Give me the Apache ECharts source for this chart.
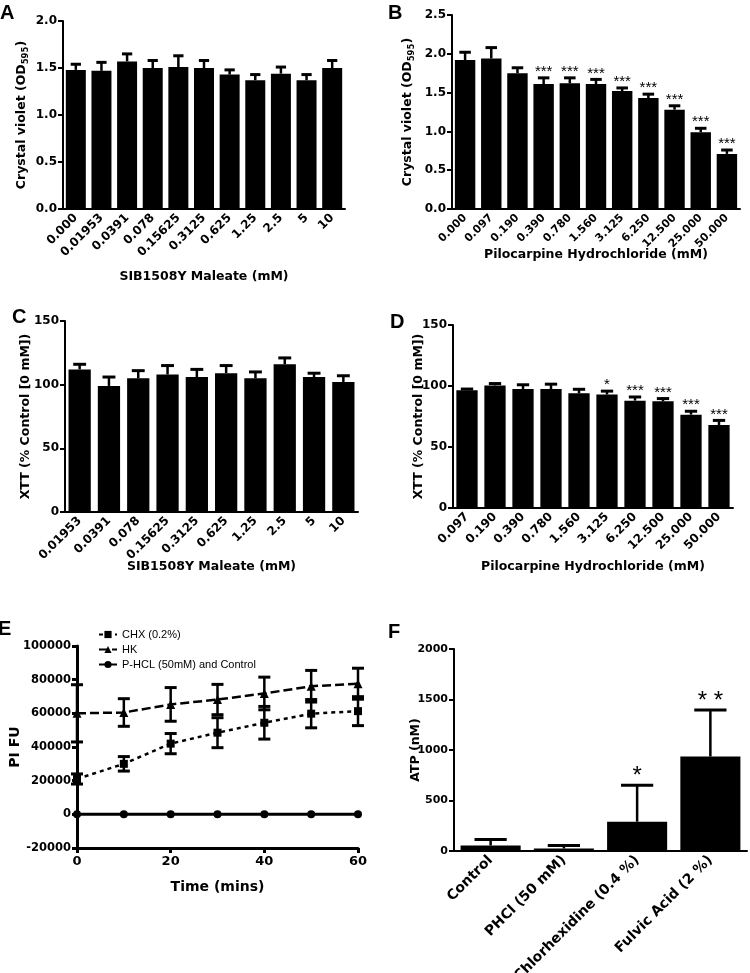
<!DOCTYPE html>
<html><head><meta charset="utf-8">
<script src="https://cdn.jsdelivr.net/npm/echarts@6/dist/echarts.min.js"></script>
<style>html,body{margin:0;padding:0;background:#fff}#c{width:750px;height:973px}</style>
</head><body><div id="c"></div>
<script>
// ---- Panel A ----
const aCats = ['0.000','0.01953','0.0391','0.078','0.15625','0.3125','0.625','1.25','2.5','5','10'];
const aMeans = [1.48,1.47,1.57,1.50,1.51,1.50,1.43,1.37,1.44,1.37,1.50];
const aErrs  = [0.06,0.09,0.08,0.08,0.12,0.08,0.05,0.06,0.07,0.06,0.08];
// ---- Panel B ----
const bCats = ['0.000','0.097','0.190','0.390','0.780','1.560','3.125','6.250','12.500','25.000','50.000'];
const bMeans = [1.92,1.94,1.75,1.61,1.62,1.61,1.52,1.43,1.28,0.99,0.71];
const bErrs  = [0.10,0.14,0.07,0.08,0.07,0.06,0.04,0.05,0.05,0.05,0.05];
const bStars = ['','','','***','***','***','***','***','***','***','***'];
// ---- Panel C ----
const cCats = ['0.01953','0.0391','0.078','0.15625','0.3125','0.625','1.25','2.5','5','10'];
const cMeans = [112,99,105,108,106,109,105,116,106,102];
const cErrs  = [4,7,6,7,6,6,5,5,3,5];
// ---- Panel D ----
const dCats = ['0.097','0.190','0.390','0.780','1.560','3.125','6.250','12.500','25.000','50.000'];
const dMeans = [96.5,100.5,97.5,97.5,94,93,88,87.5,76.5,68];
const dErrs  = [1,1.5,3.5,4,3.3,2.8,3,2.2,2.8,3.8];
const dStars = ['','','','','','*','***','***','***','***'];
// ---- Panel E ----
const eTimes = [0,10,20,30,40,50,60];
const eChx = [21000,30000,42000,48500,54400,59800,61300];
const eChxErr = [3000,4300,6000,8900,9700,8400,8600];
const eHk = [60000,60500,65300,68200,71800,76100,77600];
const eHkErr = [17000,8200,10000,9000,9700,9400,9200];
const ePhcl = [0,0,0,0,0,0,0];
const eNames = ['CHX (0.2%)','HK','P-HCL (50mM) and Control'];
// ---- Panel F ----
const fCats = ['Control','PHCl (50 mM)','Chlorhexidine (0.4 %)','Fulvic Acid (2 %)'];
const fMeans = [55,25,290,935];
const fErrs  = [60,30,360,460];
const fStars = ['','','*','* *'];

const FF = '"DejaVu Sans", "Liberation Sans", Arial, sans-serif';
const AF = '"Liberation Sans", Arial, sans-serif';
const tickFont = {fontFamily: FF, fontWeight: 'bold', fontSize: 12, color: '#000'};
const titleFont = {fontFamily: FF, fontWeight: 'bold', fontSize: 12.5, color: '#000'};

const chart = echarts.init(document.getElementById('c'), null, {renderer: 'canvas'});

const gridBoxes = [
  {left: 63, top: 21, width: 282, height: 188},
  {left: 452, top: 15, width: 288, height: 194},
  {left: 65, top: 321, width: 293, height: 191},
  {left: 453, top: 325, width: 280, height: 183},
  {left: 77, top: 646, width: 281, height: 202},
  {left: 454, top: 649, width: 293, height: 202}
];
const grids = gridBoxes.map(g => Object.assign({containLabel: false, outerBoundsMode: 'none'}, g));

const plain = v => String(v);

function catAxis(gi, cats, name, gap, rot) {
  return {
    type: 'category', gridIndex: gi, data: cats,
    axisLine: {lineStyle: {color: '#000', width: 2}},
    axisTick: {alignWithLabel: true, length: 5, lineStyle: {width: 2, color: '#000'}},
    axisLabel: Object.assign({rotate: rot, margin: 7, interval: 0}, tickFont),
    name: name, nameLocation: 'middle', nameGap: gap, nameMoveOverlap: false, nameTextStyle: titleFont
  };
}
function valAxis(gi, min, max, interval, fmt, name, gap, rich) {
  const ax = {
    type: 'value', gridIndex: gi, min: min, max: max, interval: interval,
    axisLine: {show: true, lineStyle: {color: '#000', width: 2}},
    axisTick: {show: true, length: 5, lineStyle: {width: 2, color: '#000'}},
    axisLabel: Object.assign({margin: 6, formatter: fmt}, tickFont),
    splitLine: {show: false},
    name: name, nameLocation: 'middle', nameGap: gap, nameRotate: 90, nameMoveOverlap: false,
    nameTextStyle: Object.assign({}, titleFont)
  };
  if (rich) ax.nameTextStyle.rich = rich;
  return ax;
}
const odRich = {
  t: {fontFamily: FF, fontWeight: 'bold', fontSize: 12.5, color: '#000', lineHeight: 16},
  s: {fontFamily: FF, fontWeight: 'bold', fontSize: 8.5, color: '#000', verticalAlign: 'bottom', lineHeight: 16, padding: [6, 0, 0, 0]}
};
const odName = '{t|Crystal violet (OD}{s|595}{t|)}';

function errBar(capFrac, lw, stars, starSize, starOff) {
  return function (params, api) {
    const x = api.value(0), m = api.value(1), e = api.value(2);
    const mid = api.coord([x, m]);
    const top = api.coord([x, m + e]);
    const bw = api.size([1, 0])[0];
    const hw = bw * capFrac;
    const ch = [
      {type: 'line', shape: {x1: top[0], y1: mid[1], x2: top[0], y2: top[1]}, style: {stroke: '#000', lineWidth: lw}},
      {type: 'line', shape: {x1: top[0] - hw, y1: top[1], x2: top[0] + hw, y2: top[1]}, style: {stroke: '#000', lineWidth: lw + 0.5}}
    ];
    const s = stars ? stars[params.dataIndex] : '';
    if (s) ch.push({type: 'text', style: {text: s, x: top[0], y: top[1] - starOff, align: 'center', verticalAlign: 'middle',
      fontSize: starSize, fontFamily: AF, fill: '#000'}});
    return {type: 'group', children: ch};
  };
}
function errBothE(params, api) {
  const x = api.value(0), m = api.value(1), e = api.value(2);
  const lo = api.coord([x, m - e]);
  const hi = api.coord([x, m + e]);
  const hw = 6;
  return {type: 'group', children: [
    {type: 'line', shape: {x1: hi[0], y1: lo[1], x2: hi[0], y2: hi[1]}, style: {stroke: '#000', lineWidth: 2.5}},
    {type: 'line', shape: {x1: hi[0] - hw, y1: hi[1], x2: hi[0] + hw, y2: hi[1]}, style: {stroke: '#000', lineWidth: 3}},
    {type: 'line', shape: {x1: lo[0] - hw, y1: lo[1], x2: lo[0] + hw, y2: lo[1]}, style: {stroke: '#000', lineWidth: 3}}
  ]};
}
function barSeries(gi, means, w) {
  return {type: 'bar', xAxisIndex: gi, yAxisIndex: gi, data: means, barWidth: w,
    itemStyle: {color: '#000'}, silent: true, z: 2};
}
function errSeries(gi, means, errs, cap, lw, stars, ss, so) {
  return {type: 'custom', xAxisIndex: gi, yAxisIndex: gi, z: 3, silent: true,
    data: means.map((m, i) => [i, m, errs[i]]),
    encode: {x: 0, y: 1},
    renderItem: errBar(cap, lw, stars, ss, so)};
}

const fAxis = catAxis(5, fCats, '', 0, 45);
fAxis.axisLabel.fontSize = 14;
const bAxis = catAxis(1, bCats, 'Pilocarpine Hydrochloride (mM)', 39, 45);
bAxis.axisLabel.fontSize = 11;

const xAxes = [
  catAxis(0, aCats, 'SIB1508Y Maleate (mM)', 61, 45),
  bAxis,
  catAxis(2, cCats, 'SIB1508Y Maleate (mM)', 48, 45),
  catAxis(3, dCats, 'Pilocarpine Hydrochloride (mM)', 52, 45),
  {type: 'value', gridIndex: 4, min: 0, max: 60, interval: 20,
   axisLine: {onZero: false, lineStyle: {color: '#000', width: 3}},
   axisTick: {length: 5, lineStyle: {width: 3, color: '#000'}},
   axisLabel: Object.assign({margin: 7, formatter: plain}, tickFont, {fontSize: 13}),
   splitLine: {show: false},
   name: 'Time (mins)', nameLocation: 'middle', nameGap: 32, nameMoveOverlap: false,
   nameTextStyle: Object.assign({}, titleFont, {fontSize: 14})},
  fAxis
];
const f1 = v => v.toFixed(1);
const yAxes = [
  valAxis(0, 0, 2.0, 0.5, f1, odName, 33, odRich),
  valAxis(1, 0, 2.5, 0.5, f1, odName, 36, odRich),
  valAxis(2, 0, 150, 50, plain, 'XTT (% Control [0 mM])', 33),
  valAxis(3, 0, 150, 50, plain, 'XTT (% Control [0 mM])', 28),
  valAxis(4, -20000, 100000, 20000, plain, 'PI FU', 55),
  valAxis(5, 0, 2000, 500, plain, 'ATP (nM)', 32)
];
yAxes[4].axisLine.lineStyle.width = 3;
yAxes[4].axisTick.lineStyle.width = 3;
yAxes[4].axisLabel.fontSize = 11.5;
yAxes[4].nameTextStyle.fontSize = 14;
yAxes[5].axisLabel.fontSize = 11;

const eLine = (vals) => eTimes.map((t, i) => [t, vals[i]]);
const series = [
  barSeries(0, aMeans, '78%'), errSeries(0, aMeans, aErrs, 0.2, 2.5, null),
  barSeries(1, bMeans, '78%'), errSeries(1, bMeans, bErrs, 0.22, 2.5, bStars, 15, 6),
  barSeries(2, cMeans, '76%'), errSeries(2, cMeans, cErrs, 0.22, 2.5, null),
  barSeries(3, dMeans, '76%'), errSeries(3, dMeans, dErrs, 0.22, 2.5, dStars, 15, 6),
  barSeries(5, fMeans, '82%'), errSeries(5, fMeans, fErrs, 0.22, 2.5, fStars, 24, 9),
  {type: 'custom', xAxisIndex: 4, yAxisIndex: 4, z: 3, silent: true,
   data: eTimes.map((t, i) => [t, eHk[i], eHkErr[i]]), encode: {x: 0, y: 1}, renderItem: errBothE},
  {type: 'custom', xAxisIndex: 4, yAxisIndex: 4, z: 3, silent: true,
   data: eTimes.map((t, i) => [t, eChx[i], eChxErr[i]]), encode: {x: 0, y: 1}, renderItem: errBothE},
  {name: eNames[0], type: 'line', xAxisIndex: 4, yAxisIndex: 4, data: eLine(eChx), z: 4,
   symbol: 'rect', symbolSize: 8, color: '#000', itemStyle: {color: '#000'},
   lineStyle: {color: '#000', width: 2.5, type: [4, 4]}},
  {name: eNames[1], type: 'line', xAxisIndex: 4, yAxisIndex: 4, data: eLine(eHk), z: 4,
   symbol: 'triangle', symbolSize: 9, color: '#000', itemStyle: {color: '#000'},
   lineStyle: {color: '#000', width: 2.5, type: [9, 4]}},
  {name: eNames[2], type: 'line', xAxisIndex: 4, yAxisIndex: 4, data: eLine(ePhcl), z: 4,
   symbol: 'circle', symbolSize: 8, color: '#000', itemStyle: {color: '#000'},
   lineStyle: {color: '#000', width: 3}}
];

const letter = (t, x, y) => ({type: 'text', left: x, top: y,
  style: {text: t, font: 'bold 20px "Liberation Sans", Arial, sans-serif', fill: '#000'}});

chart.setOption({
  animation: false,
  backgroundColor: '#fff',
  grid: grids,
  xAxis: xAxes,
  yAxis: yAxes,
  legend: {
    data: eNames, orient: 'vertical', left: 93, top: 624, itemGap: 4,
    itemWidth: 18, itemHeight: 9, selectedMode: false,
    textStyle: {fontFamily: AF, fontSize: 11, color: '#000'}
  },
  graphic: [
    letter('A', 0, 3), letter('B', 388, 3), letter('C', 12, 307),
    letter('D', 390, 312), letter('E', -2, 619), letter('F', 388, 622)
  ],
  series: series
});
</script>
</body></html>
